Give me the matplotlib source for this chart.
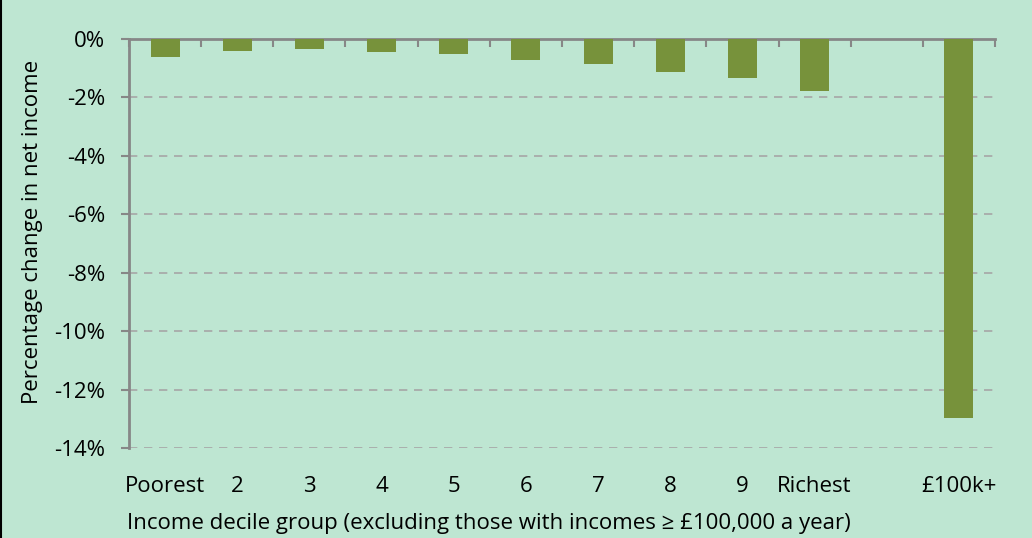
import matplotlib.pyplot as plt
import numpy as np

plt.rcParams['font.family'] = ['Open Sans', 'DejaVu Sans']

# data (percentage change in net income)
groups = ["Poorest", "2", "3", "4", "5", "6", "7", "8", "9", "Richest", "", "£100k+"]
change = [-0.62, -0.42, -0.35, -0.46, -0.52, -0.73, -0.84, -1.14, -1.32, -1.78, np.nan, -12.98]

bg = "#bee6d2"
bar_col = "#77923b"
axis_col = "#878787"
fs = 16

fig = plt.figure(figsize=(10.32, 5.38), dpi=100, facecolor=bg)
ax = fig.add_axes([129/1032, 1-448/538, (995-129)/1032, (448-39)/538])
ax.set_facecolor(bg)

x = np.arange(len(groups))
ax.bar(x, change, width=0.4, color=bar_col, zorder=3)

ax.set_xlim(-0.5, len(groups)-0.5)
ax.set_ylim(-14, 0)
yt = np.arange(-14, 1, 2)
ax.set_yticks(yt)
ax.set_yticklabels([f"{v}%" for v in yt], fontsize=fs)
for v in yt[:-1]:
    ax.axhline(v, color="#a6a6a6", lw=1.2, ls=(0, (5, 4)), zorder=1)

# category labels under the plot, boundary ticks on the zero line
ax.set_xticks(np.arange(len(groups)+1)-0.5)
ax.set_xticklabels([])
ax.xaxis.set_ticks_position("top")
ax.tick_params(axis="x", direction="in", length=6, width=1.5, color=axis_col, top=True)
ax.tick_params(axis="y", direction="out", length=6, width=1.5, color=axis_col, pad=11)
trans = ax.get_xaxis_transform()
for i, g in enumerate(groups):
    ax.text(i, (448-486)/409, g, ha="center", va="center", fontsize=fs, transform=trans)

for s in ["bottom", "right"]:
    ax.spines[s].set_visible(False)
for s in ["top", "left"]:
    ax.spines[s].set_color(axis_col)
    ax.spines[s].set_linewidth(2)

fig.text(33/1032, 1-232/538, "Percentage change in net income", rotation=90,
         ha="center", va="center", fontsize=fs)
fig.text(127/1032, 1-524/538, "Income decile group (excluding those with incomes ≥ £100,000 a year)",
         ha="left", va="center", fontsize=fs)

fig.add_artist(plt.Line2D([0.001, 0.001], [0, 1], color="black", lw=1.5))

fig.savefig("out.png", dpi=100, facecolor=bg)
